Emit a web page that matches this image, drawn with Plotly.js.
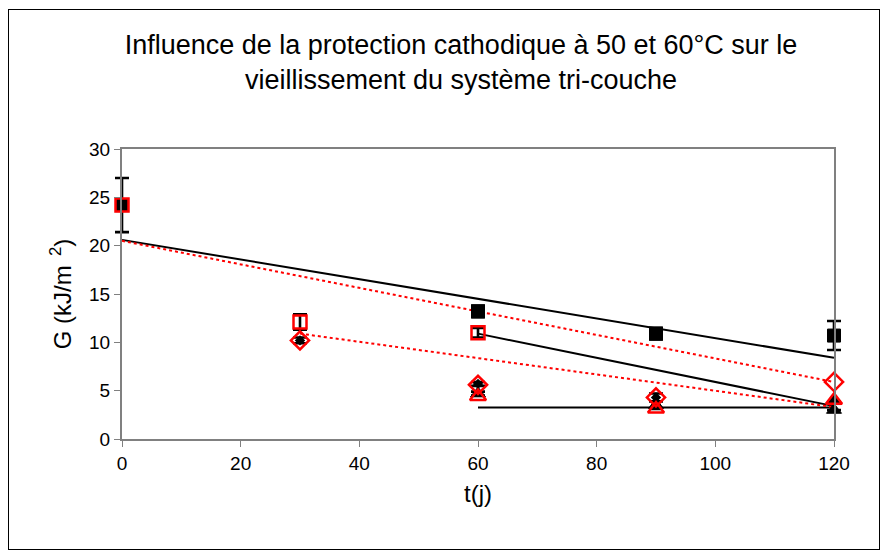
<!DOCTYPE html>
<html>
<head>
<meta charset="utf-8">
<script src="https://cdn.plot.ly/plotly-3.0.1.min.js"></script>
<style>
html,body{margin:0;padding:0;background:#fff;}
#wrap{position:relative;width:882px;height:552px;}
#chart{position:absolute;left:0;top:0;width:882px;height:552px;}
#frame{position:absolute;left:8px;top:9px;width:872px;height:541px;border:1px solid #000;pointer-events:none;box-sizing:border-box;}
</style>
</head>
<body>
<div id="wrap"><div id="chart"></div><div id="frame"></div></div>
<script>
// Data
const sqBlackX = [0, 60, 90, 120];
const sqBlackY = [24.2, 13.2, 10.9, 10.7];
const sqBlackErr = [2.8, 0.6, 0.6, 1.5];

const sqRedX = [0, 30, 60];
const sqRedY = [24.2, 12.1, 11.0];
const sqRedErr = [0, 0.8, 0.5];

const diaBlackX = [30, 60, 90];
const diaBlackY = [10.2, 5.7, 4.3];
const diaBlackErr = [0.3, 0.2, 0.4];

const diaRedX = [30, 60, 90, 120];
const diaRedY = [10.2, 5.6, 4.3, 5.9];

const triBlackX = [60, 90, 120, 120];
const triBlackY = [4.7, 3.5, 3.9, 3.0];
const triBlackErr = [0.2, 0.4, 0, 0];

const triRedX = [60, 90, 120];
const triRedY = [4.4, 3.1, 4.0];

// Trend lines (endpoints as read)
const trendBlack1X = [0, 120], trendBlack1Y = [20.6, 8.4];
const trendBlack2X = [60, 120], trendBlack2Y = [10.9, 3.4];
const trendBlack3X = [60, 120], trendBlack3Y = [3.25, 3.25];
const trendRed1X = [0, 120], trendRed1Y = [20.5, 5.9];
const trendRed2X = [30, 120], trendRed2Y = [10.9, 3.3];

const xTicks = [0, 20, 40, 60, 80, 100, 120];
const yTicks = [0, 5, 10, 15, 20, 25, 30];

// geometry of the visible plot box (px)
const W = 882, H = 552, L = 122, R = 834, T = 149, B = 439, EXT = 12;
const pxPerUnit = (R - L) / 120;
const dataRange = [-EXT / pxPerUnit, 120 + EXT / pxPerUnit];

function err(arr){return {type:'data', array:arr, visible:true, color:'#000', thickness:2.6, width:7};}
function line(x,y,color,dash){return {x:x,y:y,mode:'lines',line:{color:color,width:2,dash:dash},hoverinfo:'skip'};}

const traces = [
  {x:[], y:[], xaxis:'x2', yaxis:'y', mode:'markers', hoverinfo:'skip'},
  line(trendBlack1X, trendBlack1Y, '#000', 'solid'),
  line(trendBlack2X, trendBlack2Y, '#000', 'solid'),
  line(trendBlack3X, trendBlack3Y, '#000', 'solid'),
  line(trendRed1X, trendRed1Y, '#ff0000', 'dot'),
  line(trendRed2X, trendRed2Y, '#ff0000', 'dot'),
  {x:triBlackX, y:triBlackY, mode:'markers', error_y:err(triBlackErr), marker:{symbol:'triangle-up', size:13, color:'#000', line:{color:'#000',width:1}}, cliponaxis:false},
  {x:diaBlackX, y:diaBlackY, mode:'markers', error_y:err(diaBlackErr), marker:{symbol:'diamond', size:8, color:'#000'}, cliponaxis:false},
  {x:sqBlackX, y:sqBlackY, mode:'markers', error_y:err(sqBlackErr), marker:{symbol:'square', size:13, color:'#000', line:{color:'#000',width:1}}, cliponaxis:false},
  {x:sqRedX, y:sqRedY, mode:'markers', error_y:err(sqRedErr), marker:{symbol:'square-open', size:13, color:'#ff0000', line:{width:2.5}}, cliponaxis:false},
  {x:diaRedX, y:diaRedY, mode:'markers', marker:{symbol:'diamond-open', size:14, color:'#ff0000', line:{width:2.5}}, cliponaxis:false},
  {x:triRedX, y:triRedY, mode:'markers', marker:{symbol:'triangle-up-open', size:14, color:'#ff0000', line:{width:2.5}}, cliponaxis:false}
];

const layout = {
  width:W, height:H,
  margin:{l:0, r:0, t:0, b:0, pad:0},
  paper_bgcolor:'rgba(0,0,0,0)', plot_bgcolor:'rgba(0,0,0,0)',
  showlegend:false,
  font:{family:'Liberation Sans, Arial, sans-serif', color:'#000', size:19},
  title:{text:'Influence de la protection cathodique à 50 et 60°C sur le<br>vieillissement du système tri-couche', xref:'container', yref:'container', x:461/W, xanchor:'center', y:1 - 54/H, yanchor:'top', font:{size:27, color:'#000'}},
  // data axis (invisible, slightly wider so error bars at the ends are not clipped)
  xaxis:{domain:[(L - EXT)/W, (R + EXT)/W], range:dataRange, visible:false, showgrid:false, zeroline:false, anchor:'y'},
  // visible axis box
  xaxis2:{domain:[L/W, R/W], range:[0,120], anchor:'y', tickvals:xTicks, ticktext:xTicks.map(String), showgrid:false, zeroline:false, showline:true, linecolor:'#808080', linewidth:2, mirror:true, ticks:'outside', ticklen:6, tickcolor:'#808080', tickwidth:1, tickfont:{size:19},
    title:{text:'t(j)', font:{size:24}, standoff:12}},
  yaxis:{domain:[1 - B/H, 1 - T/H], range:[0,30], anchor:'x2', tickvals:yTicks, ticktext:yTicks.map(String), showgrid:false, zeroline:false, showline:true, linecolor:'#808080', linewidth:2, mirror:true, ticks:'outside', ticklen:6, tickcolor:'#808080', tickwidth:1, tickfont:{size:19},
    title:{text:'G (kJ/m<sup>  2</sup>)', font:{size:24}, standoff:11}}
};

Plotly.newPlot('chart', traces, layout, {staticPlot:true, displayModeBar:false});
</script>
</body>
</html>
